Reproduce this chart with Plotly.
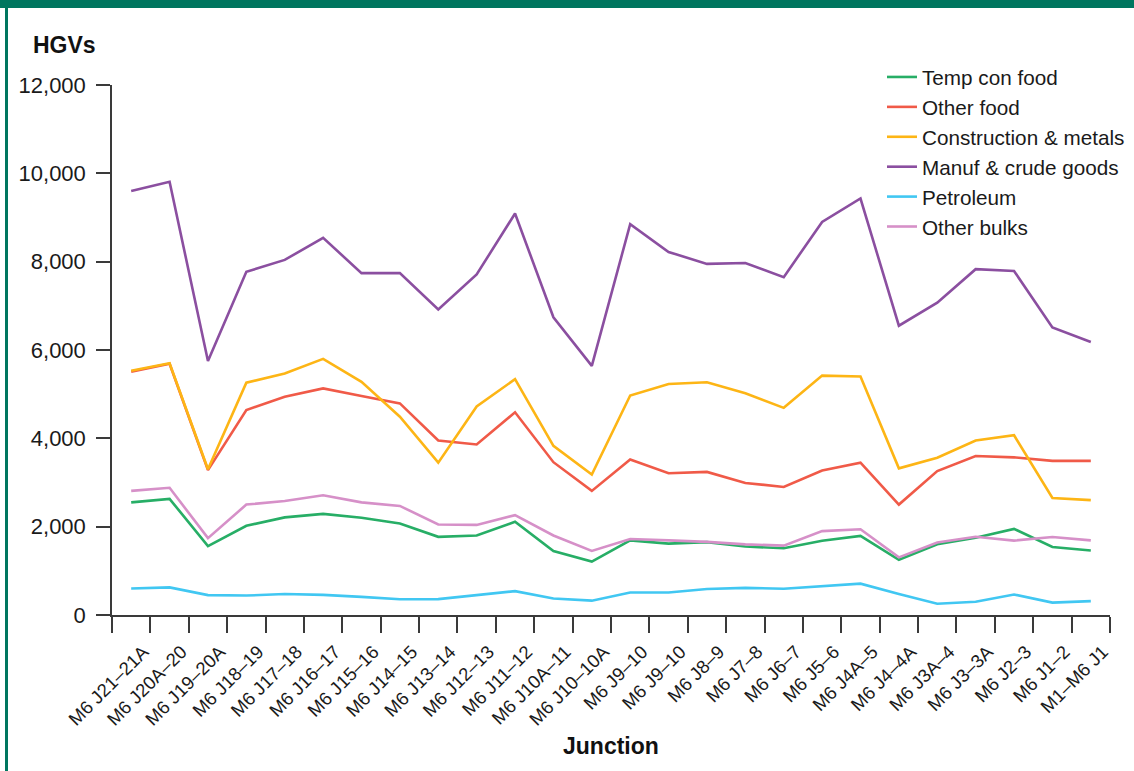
import plotly.graph_objects as go

# Junctions along the M6, north to south (note: "M6 J9–10" appears twice in the source)
junctions = ["M6 J21–21A", "M6 J20A–20", "M6 J19–20A", "M6 J18–19", "M6 J17–18",
             "M6 J16–17", "M6 J15–16", "M6 J14–15", "M6 J13–14", "M6 J12–13",
             "M6 J11–12", "M6 J10A–11", "M6 J10–10A", "M6 J9–10", "M6 J9–10",
             "M6 J8–9", "M6 J7–8", "M6 J6–7", "M6 J5–6", "M6 J4A–5",
             "M6 J4–4A", "M6 J3A–4", "M6 J3–3A", "M6 J2–3", "M6 J1–2", "M1–M6 J1"]

temp_con_food = [2550, 2630, 1560, 2020, 2210, 2290, 2200, 2070, 1770, 1800,
                 2110, 1450, 1210, 1690, 1615, 1650, 1550, 1510, 1680, 1790,
                 1250, 1600, 1750, 1950, 1540, 1460]
other_food = [5510, 5690, 3280, 4640, 4940, 5130, 4960, 4790, 3950, 3860,
              4590, 3460, 2810, 3520, 3210, 3240, 2990, 2900, 3270, 3450,
              2500, 3260, 3600, 3570, 3490, 3490]
construction_metals = [5530, 5700, 3300, 5260, 5470, 5800, 5280, 4490, 3450, 4720,
                       5340, 3830, 3180, 4970, 5230, 5270, 5020, 4690, 5420, 5400,
                       3320, 3560, 3950, 4070, 2650, 2600]
manuf_crude = [9600, 9810, 5750, 7770, 8040, 8540, 7740, 7740, 6920, 7710,
               9090, 6740, 5640, 8850, 8220, 7950, 7970, 7650, 8900, 9430,
               6550, 7070, 7830, 7790, 6510, 6180]
petroleum = [600, 625, 450, 440, 475, 455, 410, 355, 360, 450,
             540, 375, 325, 510, 510, 590, 615, 595, 655, 710,
             475, 255, 300, 465, 280, 315]
other_bulks = [2810, 2880, 1740, 2500, 2580, 2710, 2550, 2470, 2050, 2040,
               2260, 1800, 1450, 1720, 1690, 1655, 1600, 1570, 1900, 1940,
               1305, 1640, 1770, 1685, 1765, 1690]

y_ticks = [0, 2000, 4000, 6000, 8000, 10000, 12000]

series = [
    ("Temp con food", temp_con_food, "#27ae66"),
    ("Other food", other_food, "#f05a48"),
    ("Construction & metals", construction_metals, "#fdb515"),
    ("Manuf & crude goods", manuf_crude, "#8b4fa0"),
    ("Petroleum", petroleum, "#41c7f2"),
    ("Other bulks", other_bulks, "#d690c8"),
]

# category axis needs unique names: pad repeated labels with zero-width spaces
cats = []
for name in junctions:
    while name in cats:
        name += "\u200b"
    cats.append(name)

FONT = "Liberation Sans, Arial, Helvetica, sans-serif"
TEAL = "#00765f"
AXIS = "#3a3a3a"

fig = go.Figure()
for name, values, color in series:
    fig.add_trace(go.Scatter(x=cats, y=values, name=name, mode="lines",
                             line=dict(color=color, width=2.6)))

W, H = 1134, 771
L, R, T, B = 112, 24, 85, 156
pw, ph = W - L - R, H - T - B

def px_x(x):
    return (x - L) / pw

def px_y(y):
    return (H - B - y) / ph

fig.update_layout(
    width=W, height=H, autosize=False,
    margin=dict(l=L, r=R, t=T, b=B, autoexpand=False),
    paper_bgcolor="white", plot_bgcolor="white",
    font=dict(family=FONT, color="#1a1a1a"),
    legend=dict(x=px_x(882), y=px_y(57), xanchor="left", yanchor="top",
                font=dict(size=20.7, family=FONT, color="#1a1a1a"),
                bgcolor="rgba(0,0,0,0)", tracegroupgap=0),
    xaxis=dict(type="category", range=[-0.5, len(cats) - 0.5],
               showline=True, linecolor=AXIS, linewidth=1.5,
               ticks="outside", ticklen=16, tickwidth=1.5, tickcolor=AXIS,
               tickson="boundaries", tickangle=-45,
               ticklabelstandoff=17, ticklabelshift=12,
               tickfont=dict(size=18.5, family=FONT, color="#1a1a1a"),
               showgrid=False, zeroline=False, automargin=False),
    yaxis=dict(range=[0, 12000], tickvals=y_ticks, tickformat=",",
               showline=True, linecolor=AXIS, linewidth=1.5,
               ticks="outside", ticklen=14, tickwidth=1.5, tickcolor=AXIS,
               ticklabelstandoff=6,
               tickfont=dict(size=22, family=FONT, color="#1a1a1a"),
               showgrid=False, zeroline=False, automargin=False),
    annotations=[
        dict(text="<b>HGVs</b>", x=px_x(31), y=px_y(45), xref="paper", yref="paper",
             xanchor="left", yanchor="middle", showarrow=False,
             font=dict(size=23, family=FONT, color="#111")),
        dict(text="<b>Junction</b>", x=px_x(611), y=px_y(746), xref="paper", yref="paper",
             xanchor="center", yanchor="middle", showarrow=False,
             font=dict(size=23, family=FONT, color="#111")),
    ],
    shapes=[
        # teal frame: band along the top, thin bar down the left
        dict(type="rect", xref="paper", yref="paper", x0=px_x(0), x1=px_x(W),
             y0=px_y(8), y1=px_y(0), fillcolor=TEAL, line=dict(width=0), layer="above"),
        dict(type="rect", xref="paper", yref="paper", x0=px_x(5), x1=px_x(8),
             y0=px_y(H), y1=px_y(0), fillcolor=TEAL, line=dict(width=0), layer="above"),
    ],
)

# drop the page's default 8px body margin so the figure sits at the window corner
fig.write_html("out.html",
               config={"displayModeBar": False, "responsive": False},
               post_script="document.body.style.margin='0';"
                           "document.body.style.overflow='hidden';")
